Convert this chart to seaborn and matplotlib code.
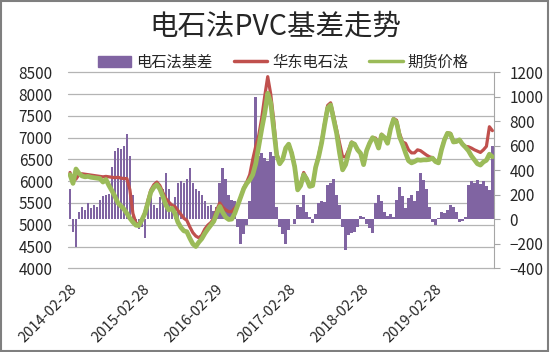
import pandas as pd
import numpy as np
import matplotlib
matplotlib.use('Agg')
import matplotlib.pyplot as plt
import matplotlib.transforms as mtransforms
from matplotlib.patches import Patch, Rectangle
from matplotlib.lines import Line2D
import seaborn as sns

sns.set_style('white')
plt.rcParams['font.family'] = ['Noto Sans CJK SC', 'DejaVu Sans']

# half-monthly samples, starting 2014-02-28
start_date = '2014-02-28'
step = '15D'

spot = [6200, 6000, 6050, 6150, 6170, 6160, 6150, 6140, 6130, 6120,
        6110, 6100, 6110, 6100, 6090, 6080, 6090, 6070, 6060, 6060,
        5800, 5260, 5040, 5000, 5120, 5280, 5560, 5800, 5920, 5980,
        5900, 5740, 5600, 5520, 5450, 5420, 5330, 5240, 5150, 5100,
        4950, 4820, 4740, 4700, 4760, 4900, 4990, 5050, 5140, 5350,
        5500, 5400, 5340, 5300, 5300, 5380, 5460, 5640, 5850, 5980,
        6150, 6500, 6800, 7050, 7450, 7950, 8400, 8000, 7400, 6650,
        6400, 6500, 6760, 6850, 6660, 6350, 5850, 5940, 6200, 6070,
        5900, 5900, 6330, 6600, 6920, 7340, 7740, 7800, 7500, 7180,
        6870, 6560, 6560, 6720, 6900, 6850, 6720, 6650, 6390, 6700,
        6870, 7000, 6990, 6820, 7080, 7010, 6880, 7210, 7440, 7400,
        7100, 6900, 6870, 6720, 6650, 6650, 6720, 6700, 6650, 6600,
        6560, 6540, 6460, 6430, 6740, 6960, 7110, 7100, 6920, 6920,
        6950, 6860, 6800, 6790, 6760, 6720, 6690, 6660, 6720, 6800,
        7250, 7160]

futures = [6150, 5950, 6280, 6180, 6120, 6100, 6110, 6090, 6080, 6070,
           6060, 5980, 6040, 5900, 5780, 5650, 5500, 5430, 5360, 5260,
           5150, 5060, 4990, 4980, 5110, 5260, 5500, 5750, 5860, 5920,
           5820, 5650, 5450, 5340, 5380, 5270, 5060, 4940, 4860, 4840,
           4690, 4560, 4500, 4600, 4680, 4800, 4900, 4990, 5080, 5260,
           5420, 5280, 5170, 5120, 5130, 5260, 5450, 5640, 5830, 5950,
           6030, 6150, 6400, 6800, 7200, 7560, 8020, 7800, 7200, 6600,
           6400, 6500, 6760, 6850, 6640, 6330, 5800, 5900, 6150, 6050,
           5880, 5900, 6320, 6560, 6880, 7300, 7680, 7750, 7420, 7100,
           6640, 6260, 6380, 6650, 6880, 6850, 6720, 6640, 6380, 6700,
           6870, 7000, 6950, 6760, 7060, 7000, 6870, 7200, 7420, 7350,
           7020, 6850, 6650, 6470, 6420, 6450, 6490, 6480, 6490, 6490,
           6500, 6530, 6450, 6420, 6720, 6950, 7100, 7080, 6900, 6910,
           6950, 6850, 6780, 6700, 6580, 6490, 6400, 6370, 6440, 6480,
           6620, 6560]

basis = [250, -100, -230, 60, 100, 80, 130, 90, 120, 100,
         160, 190, 200, 210, 430, 560, 580, 570, 600, 700,
         520, 200, -40, -80, -60, -150, 160, 180, 120, 90,
         180, 250, 380, 250, 100, 180, 300, 310, 300, 330,
         420, 300, 250, 230, 200, 150, 110, 120, 70, 100,
         300, 420, 330, 200, 160, 150, -60, -200, -120, -50,
         150, 480, 1000, 520, 540, 500, 480, 550, 520, 100,
         -60, -120, -200, -90, 0, -40, 120, 100, 200, 60,
         20, -30, 40, 130, 150, 140, 280, 300, 330, 200,
         120, -60, -250, -130, -110, -100, -60, 30, 20, -40,
         -70, -110, 130, 200, 150, 60, 30, 40, 20, 160,
         260, 190, 90, 170, 200, 150, 230, 380, 320, 250,
         100, -20, -50, 10, 60, 50, 80, 120, 100, 60,
         -20, -10, 20, 280, 310, 300, 320, 290, 310, 270,
         240, 600]

tick_dates = ['2014-02-28', '2015-02-28', '2016-02-29',
              '2017-02-28', '2018-02-28', '2019-02-28']
left_ticks = list(range(4000, 8501, 500))
right_ticks = list(range(-400, 1201, 200))

dates = pd.date_range(start_date, periods=len(spot), freq=step)
df = pd.DataFrame({'date': dates, '华东电石法': spot,
                   '期货价格': futures, '电石法基差': basis})

purple = '#8064A2'
red = '#C0504D'
green = '#9BBB59'
grid_c = '#B4B4B4'

fig = plt.figure(figsize=(5.5, 3.52), dpi=100)
fig.patch.set_facecolor('white')

ax_bar = fig.add_axes([68 / 550, 1 - 268.3 / 352, 426 / 550, 196 / 352])
ax_line = ax_bar.twinx()

# basis bars on the right scale
ax_bar.bar(df['date'], df['电石法基差'], width=13, color=purple,
           linewidth=0, zorder=2)
ax_bar.set_ylim(-400, 1200)
ax_bar.set_yticks(right_ticks)
ax_bar.yaxis.tick_right()

# prices on the left scale
sns.lineplot(data=df, x='date', y='华东电石法', ax=ax_line, color=red, lw=2.3)
sns.lineplot(data=df, x='date', y='期货价格', ax=ax_line, color=green, lw=3.4)
ax_line.set_ylim(4000, 8500)
ax_line.set_yticks(left_ticks)
ax_line.yaxis.tick_left()
ax_line.set_ylabel('')
ax_line.set_xlabel('')

# gridlines follow the left scale but sit behind the bars
trans = mtransforms.blended_transform_factory(ax_bar.transAxes, ax_line.transData)
for v in left_ticks:
    ax_bar.plot([0, 1], [v, v], transform=trans, color=grid_c, lw=0.9,
                zorder=1, clip_on=False)

ax_bar.set_xlim(dates[0] - pd.Timedelta(days=10), dates[-1] + pd.Timedelta(days=8))
ax_bar.set_ylim(-400, 1200)
ax_bar.set_xticks(pd.to_datetime(tick_dates))
ax_bar.set_xticklabels(tick_dates, rotation=45, ha='right',
                       rotation_mode='anchor', fontsize=10.5)
ax_bar.set_xlabel('')
ax_bar.set_ylabel('')

for s in ['left', 'top', 'bottom']:
    ax_bar.spines[s].set_visible(False)
ax_bar.spines['right'].set_color('#A6A6A6')
for s in ax_line.spines.values():
    s.set_visible(False)

ax_bar.tick_params(axis='y', direction='out', length=4, color='#A6A6A6',
                   labelsize=11, pad=7)
ax_bar.tick_params(axis='x', length=0, pad=10)
ax_line.tick_params(axis='y', length=0, labelsize=11, pad=11)

fig.text(0.5, 1 - 27 / 352, '电石法PVC基差走势', ha='center', va='center',
         fontsize=20.5, fontweight='medium')

handles = [Patch(color=purple, label='电石法基差'),
           Line2D([], [], color=red, lw=2.5, label='华东电石法'),
           Line2D([], [], color=green, lw=2.5, label='期货价格')]
fig.legend(handles=handles, loc='center', bbox_to_anchor=(0.515, 1 - 62 / 352),
           ncol=3, frameon=False, fontsize=11, handlelength=2.2,
           columnspacing=1.4, handletextpad=0.3)

fig.patches.append(Rectangle((0.002, 0.003), 0.995, 0.994, transform=fig.transFigure,
                             fill=False, edgecolor='#7F7F7F', lw=1.5))

fig.savefig('out.png', dpi=100)
